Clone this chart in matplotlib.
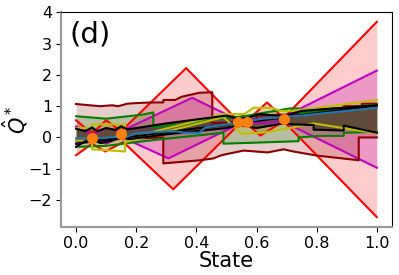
import numpy as np
import matplotlib
matplotlib.use("Agg")
import matplotlib.pyplot as plt

# observed transitions (orange dots)
data_x = [0.053, 0.15, 0.54, 0.57, 0.69]
data_y = [-0.03, 0.10, 0.48, 0.50, 0.58]

# red band
red_ux = [0.0, 0.053, 0.10, 0.15, 0.366, 0.54, 0.555, 0.57, 0.635, 0.69, 1.0]
red_u = [0.55, 0.12, 0.55, 0.20, 2.22, 0.52, 0.70, 0.55, 1.12, 0.62, 3.70]
red_lx = [0.0, 0.053, 0.097, 0.157, 0.323, 0.54, 0.57, 0.613, 0.69, 1.0]
red_l = [-0.57, -0.20, -0.45, -0.15, -1.66, 0.40, 0.42, 0.06, 0.52, -2.55]

# magenta band
mag_ux = [0.0, 0.053, 0.10, 0.15, 0.386, 0.54, 0.57, 0.69, 1.0]
mag_u = [0.35, 0.10, 0.30, 0.20, 1.27, 0.55, 0.56, 0.66, 2.14]
mag_lx = [0.0, 0.053, 0.10, 0.15, 0.307, 0.54, 0.57, 0.69, 1.0]
mag_l = [-0.20, -0.08, -0.20, 0.02, -0.67, 0.42, 0.45, 0.50, -0.97]

# dark red band
dr_ux = [0.0, 0.08, 0.12, 0.14, 0.17, 0.20, 0.25, 0.29, 0.29, 0.33, 0.35, 0.41,
         0.453, 0.453, 0.60, 0.60, 0.75, 0.75, 0.89, 0.89, 0.95, 0.95, 1.0]
dr_u = [1.07, 1.00, 1.03, 1.00, 1.08, 1.10, 1.12, 1.12, 1.20, 1.20, 1.30, 1.43,
        1.45, 0.45, 0.55, 0.70, 0.75, 0.85, 0.95, 1.00, 1.00, 1.08, 1.08]
dr_lx = [0.0, 0.29, 0.29, 0.413, 0.457, 0.48, 0.497, 0.557, 0.637, 0.69, 0.723,
         0.80, 0.94, 0.94, 1.0]
dr_l = [-0.10, 0.00, -0.83, -0.73, -0.67, -0.58, -0.54, -0.42, -0.48, -0.38, -0.45,
        -0.58, -0.73, 0.00, 0.00]

# green band
g_ux = [0.0, 0.10, 0.22, 0.257, 0.257, 0.35, 0.49, 0.56, 0.63, 0.67, 0.71, 0.74,
        0.74, 0.85, 1.0]
g_u = [0.68, 0.60, 0.73, 0.80, 0.32, 0.42, 0.62, 0.68, 0.80, 0.86, 0.93, 0.93,
       0.78, 0.90, 1.05]
g_lx = [0.0, 0.10, 0.20, 0.29, 0.49, 0.49, 0.74, 0.74, 0.81, 0.89, 0.89, 1.0]
g_l = [-0.30, -0.27, -0.15, -0.05, 0.15, -0.20, -0.12, 0.00, 0.05, 0.05, 0.15, 0.18]

# yellow band
y_ux = [0.0, 0.053, 0.053, 0.163, 0.163, 0.49, 0.56, 0.59, 0.65, 0.68, 0.72, 1.0]
y_u = [0.30, 0.30, 0.42, 0.42, -0.05, 0.75, 0.75, 0.95, 0.95, 0.85, 0.85, 1.20]
y_lx = [0.0, 0.053, 0.053, 0.163, 0.163, 0.49, 0.55, 0.63, 0.72, 0.79, 1.0]
y_l = [-0.10, -0.10, -0.38, -0.45, -0.15, 0.65, 0.12, 0.16, 0.32, 0.45, 0.13]

# black band
k_ux = [0.0, 0.03, 0.053, 0.07, 0.10, 0.13, 0.15, 0.17, 0.20, 0.30, 0.50, 0.54,
        0.57, 0.61, 0.69, 0.75, 1.0]
k_u = [0.28, 0.20, 0.32, 0.20, 0.30, 0.24, 0.36, 0.26, 0.30, 0.45, 0.70, 0.60,
       0.63, 0.75, 0.68, 0.85, 1.03]
k_lx = [0.0, 0.03, 0.053, 0.08, 0.12, 0.15, 0.18, 0.30, 0.50, 0.54, 0.60, 0.69,
        0.72, 0.79, 0.79, 0.89, 0.89, 1.0]
k_l = [-0.30, -0.12, -0.05, -0.18, -0.10, 0.00, -0.05, 0.10, 0.30, 0.40, 0.30,
       0.45, 0.42, 0.40, 0.25, 0.22, 0.38, 0.15]

# linear fit and mean estimate
lin_x = [0.0, 1.0]
lin_y = [-0.20, 1.02]
blue_x = [0.0, 0.10, 0.10, 0.17, 0.20, 0.28, 0.33, 0.36, 0.41, 0.43, 0.50, 0.55,
          0.62, 0.70, 0.75, 0.85, 0.90, 1.0]
blue_y = [-0.03, -0.02, 0.00, 0.03, 0.13, 0.18, 0.20, 0.15, 0.15, 0.32, 0.42, 0.48,
          0.60, 0.66, 0.70, 0.80, 0.85, 0.95]

grid = np.linspace(0, 1, 1001)


def band(ax, ux, u, lx, l, color, alpha):
    uu = np.interp(grid, ux, u)
    ll = np.interp(grid, lx, l)
    ax.fill_between(grid, ll, uu, color=color, alpha=alpha, lw=0)
    ax.plot(ux, u, color=color, lw=1.5)
    ax.plot(lx, l, color=color, lw=1.5)


fig = plt.figure(figsize=(3.99, 2.75), dpi=100)
ax = fig.add_axes([0.153, 0.175, 0.829, 0.781])

band(ax, red_ux, red_u, red_lx, red_l, 'red', 0.2)
band(ax, mag_ux, mag_u, mag_lx, mag_l, 'm', 0.25)
band(ax, dr_ux, dr_u, dr_lx, dr_l, 'darkred', 0.2)
band(ax, g_ux, g_u, g_lx, g_l, 'green', 0.2)
band(ax, y_ux, y_u, y_lx, y_l, 'y', 0.2)
band(ax, k_ux, k_u, k_lx, k_l, 'black', 0.45)

ax.plot(lin_x, lin_y, color='black', lw=1.5)
ax.plot(blue_x, blue_y, color='tab:blue', lw=1.5)
ax.plot(data_x, data_y, 'o', color='tab:orange', ms=7, zorder=5)

ax.text(0.025, 0.86, '(d)', transform=ax.transAxes, fontsize=21)
ax.set_xlabel('State', fontsize=15, labelpad=0)
ax.set_ylabel(r'$\hat{Q}^*$', fontsize=15)
ax.yaxis.set_label_coords(-0.095, 0.5)
ax.set_xticks([0.0, 0.2, 0.4, 0.6, 0.8, 1.0])
ax.set_yticks([-2, -1, 0, 1, 2, 3, 4])
ax.tick_params(labelsize=11.5, pad=3)
for s in ['left', 'bottom']:
    ax.spines[s].set_color('#999999')
    ax.spines[s].set_linewidth(1.5)

fig.savefig('out.png', dpi=100)
